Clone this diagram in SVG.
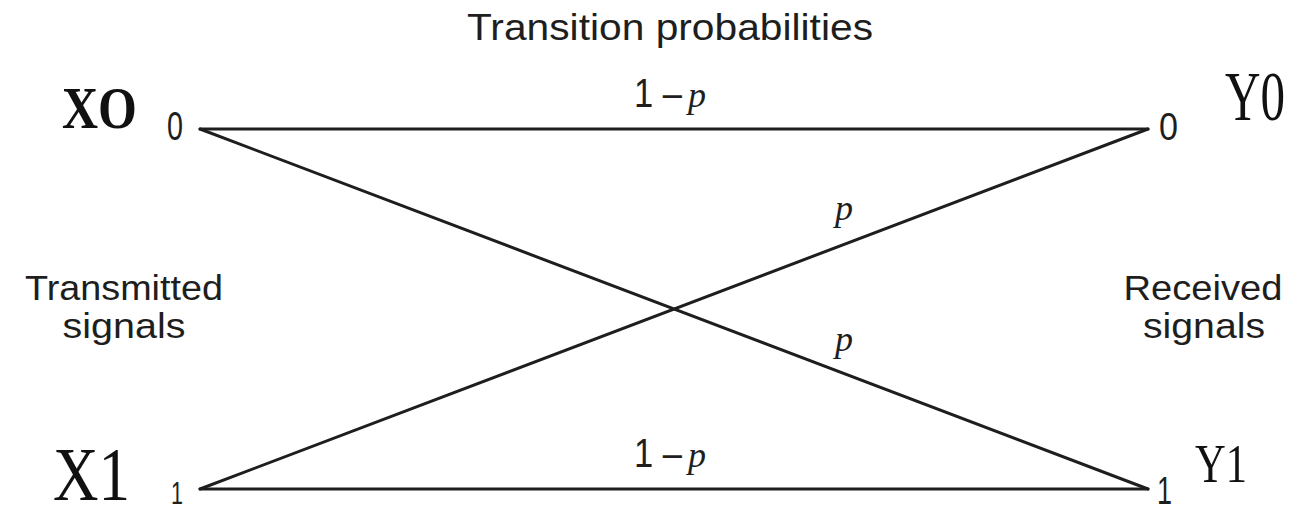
<svg xmlns="http://www.w3.org/2000/svg" width="1294" height="506" viewBox="0 0 1294 506">
<style>
.bg{fill:#ffffff}
.edge{stroke:#1e1e1e;stroke-width:3;fill:none;stroke-linecap:round}
.sans{font-family:"Liberation Sans",Arial,sans-serif;fill:#1e1e1e}
.serif{font-family:"Liberation Serif","Times New Roman",serif;fill:#111}
.ital{font-family:"Liberation Serif","Times New Roman",serif;font-style:italic;fill:#1e1e1e}
</style>
<rect class="bg" x="0" y="0" width="1294" height="506"/>
<g id="title">
<text class="sans" x="467" y="40" font-size="37" textLength="406" lengthAdjust="spacingAndGlyphs">Transition probabilities</text>
</g>
<g id="connectors">
<line class="edge" x1="200" y1="129" x2="1148" y2="129"/>
<line class="edge" x1="200" y1="489" x2="1148" y2="489"/>
<line class="edge" x1="200" y1="129" x2="1148" y2="489"/>
<line class="edge" x1="200" y1="489" x2="1148" y2="129"/>
<text class="sans" x="634" y="107" font-size="40" textLength="48" lengthAdjust="spacingAndGlyphs">1 –</text>
<text class="ital" x="688" y="107" font-size="36">p</text>
<text class="sans" x="634" y="467" font-size="40" textLength="48" lengthAdjust="spacingAndGlyphs">1 –</text>
<text class="ital" x="688" y="467" font-size="36">p</text>
<text class="ital" x="835" y="220" font-size="36">p</text>
<text class="ital" x="835" y="351" font-size="36">p</text>
</g>
<g id="x0">
<text class="serif" x="62" y="128" font-size="60" font-weight="bold" textLength="75" lengthAdjust="spacingAndGlyphs">XO</text>
<text class="sans" x="167" y="140" font-size="40" textLength="16" lengthAdjust="spacingAndGlyphs">0</text>
</g>
<g id="x1">
<text class="serif" x="53" y="500" font-size="76" textLength="77" lengthAdjust="spacingAndGlyphs">X1</text>
<text class="sans" x="171" y="504" font-size="32" textLength="12" lengthAdjust="spacingAndGlyphs">1</text>
</g>
<g id="y0">
<text class="serif" x="1225" y="120" font-size="70" textLength="60" lengthAdjust="spacingAndGlyphs">Y0</text>
<text class="sans" x="1159" y="140" font-size="38" textLength="19" lengthAdjust="spacingAndGlyphs">0</text>
</g>
<g id="y1">
<text class="serif" x="1195" y="482" font-size="55" textLength="52" lengthAdjust="spacingAndGlyphs">Y1</text>
<text class="sans" x="1157" y="504" font-size="38" textLength="15" lengthAdjust="spacingAndGlyphs">1</text>
</g>
<g id="transmitted">
<text class="sans" x="124" y="300" font-size="35" text-anchor="middle" textLength="198" lengthAdjust="spacingAndGlyphs">Transmitted</text>
<text class="sans" x="124" y="338" font-size="35" text-anchor="middle" textLength="123" lengthAdjust="spacingAndGlyphs">signals</text>
</g>
<g id="received">
<text class="sans" x="1203" y="300" font-size="35" text-anchor="middle" textLength="159" lengthAdjust="spacingAndGlyphs">Received</text>
<text class="sans" x="1204" y="338" font-size="35" text-anchor="middle" textLength="122" lengthAdjust="spacingAndGlyphs">signals</text>
</g>
</svg>
